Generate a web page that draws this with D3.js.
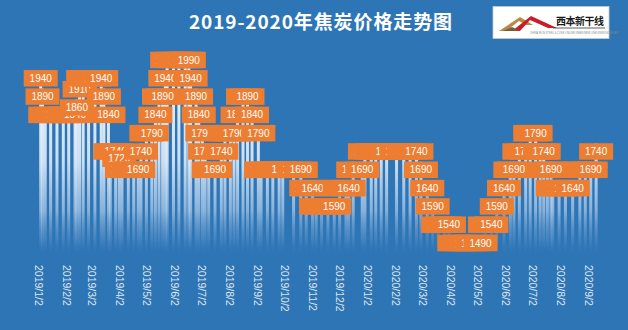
<!DOCTYPE html>
<html><head><meta charset="utf-8">
<script src="https://cdn.jsdelivr.net/npm/d3@7"></script>
<style>html,body{margin:0;padding:0;background:#2e75b6;} svg{display:block}</style>
</head><body><svg id="c" width="628" height="330"></svg>
<script>
const title = "2019-2020年焦炭价格走势图";
const dates = [
 "2019-01-05","2019-01-07","2019-01-10","2019-01-16","2019-01-23","2019-01-30","2019-02-05","2019-02-12",
 "2019-02-14","2019-02-17","2019-02-21","2019-02-27","2019-03-06","2019-03-13","2019-03-16","2019-03-21",
 "2019-03-23","2019-03-29","2019-04-02","2019-04-05","2019-04-12","2019-04-18","2019-04-23","2019-04-26",
 "2019-05-02","2019-05-08","2019-05-12","2019-05-16","2019-05-20","2019-05-23","2019-05-25","2019-06-01",
 "2019-06-07","2019-06-14","2019-06-18","2019-06-20","2019-06-26","2019-06-29","2019-07-03","2019-07-06",
 "2019-07-10","2019-07-17","2019-07-24","2019-07-28","2019-08-03","2019-08-07","2019-08-11","2019-08-17",
 "2019-08-22","2019-08-27","2019-09-03","2019-09-06","2019-09-13","2019-09-19","2019-09-26","2019-09-30",
 "2019-10-12","2019-10-20","2019-10-26","2019-11-02","2019-11-06","2019-11-12","2019-11-19","2019-11-26",
 "2019-12-02","2019-12-09","2019-12-12","2019-12-17","2019-12-27","2019-12-30","2020-01-06","2020-01-11",
 "2020-01-17","2020-01-23","2020-02-03","2020-02-11","2020-02-18","2020-02-25","2020-03-01","2020-03-08",
 "2020-03-14","2020-03-20","2020-03-27","2020-04-01","2020-04-07","2020-04-13","2020-04-20","2020-04-27",
 "2020-05-06","2020-05-11","2020-05-18","2020-05-24","2020-06-01","2020-06-08","2020-06-12","2020-06-18",
 "2020-06-25","2020-06-30","2020-07-06","2020-07-11","2020-07-15","2020-07-19","2020-07-23","2020-07-25",
 "2020-08-01","2020-08-08","2020-08-16","2020-08-24","2020-08-30","2020-09-05","2020-09-11"
];
const prices = [
 1940,1890,1840,1840,1840,1840,1840,1840,
 1860,1910,1940,1940,1940,1940,1890,1840,
 1740,1740,1720,1690,1690,1690,1690,1740,
 1790,1790,1840,1890,1890,1940,1990,1990,
 1990,1990,1990,1940,1890,1840,1790,1740,
 1690,1690,1740,1790,1790,1790,1840,1890,
 1890,1840,1790,1690,1690,1690,1690,1690,
 1690,1690,1640,1640,1590,1590,1590,1590,
 1640,1640,1640,1690,1690,1740,1740,1740,
 1740,1740,1740,1740,1740,1740,1690,1640,
 1590,1540,1540,1540,1490,1490,1490,1490,
 1490,1540,1540,1590,1640,1690,1690,1740,
 1740,1790,1790,1740,1740,1690,1690,1640,
 1640,1640,1640,1690,1690,1690,1740
];
const tickLabels = ["2019/1/2","2019/2/2","2019/3/2","2019/4/2","2019/5/2","2019/6/2","2019/7/2",
 "2019/8/2","2019/9/2","2019/10/2","2019/11/2","2019/12/2","2020/1/2","2020/2/2","2020/3/2",
 "2020/4/2","2020/5/2","2020/6/2","2020/7/2","2020/8/2","2020/9/2"];
const logoText = "西本新干线";

const W = 628, H = 330;
const parseISO = d3.timeParse("%Y-%m-%d");
const parseTick = d3.timeParse("%Y/%m/%d");
const data = dates.map((d, i) => ({date: parseISO(d), value: prices[i]}));
const ticks = tickLabels.map(t => parseTick(t));

const svg = d3.select("#c");
svg.append("rect").attr("width", W).attr("height", H).attr("fill", "#2e75b6");

const x = d3.scaleTime().domain([ticks[0], ticks[ticks.length - 1]]).range([38, 588]);
const y = d3.scaleLinear().domain([1440, 2000]).range([253.3, 48.3]);

// gradient for bars
const defs = svg.append("defs");
const g = defs.append("linearGradient").attr("id", "barGrad")
  .attr("gradientUnits", "userSpaceOnUse").attr("x1", 0).attr("x2", 0)
  .attr("y1", y(2000)).attr("y2", 256);
[[0, "#ffffff", 0.95], [0.55, "#e0ecf8", 0.88], [0.78, "#b3cfec", 0.68], [0.92, "#6e9fd2", 0.33], [1, "#2e75b6", 0]]
  .forEach(s => g.append("stop").attr("offset", s[0]).attr("stop-color", s[1]).attr("stop-opacity", s[2]));

// bars
const bw = 3;
svg.append("g").selectAll("rect").data(data).join("rect")
  .attr("x", d => x(d.date) - bw / 2)
  .attr("width", bw)
  .attr("y", d => y(d.value))
  .attr("height", d => y.range()[0] - y(d.value))
  .attr("fill", "url(#barGrad)");

// data labels (drawn in order so later ones cover earlier)
const bwL = 34, bhL = 16.5;
const lg = svg.append("g");
data.forEach(d => {
  const cx = x(d.date), cy = y(d.value) + 8;
  const gg = lg.append("g");
  gg.append("rect").attr("x", cx - bwL / 2).attr("y", cy - bhL / 2)
    .attr("width", bwL).attr("height", bhL).attr("fill", "#ed7d31");
  gg.append("text").attr("x", cx).attr("y", cy).attr("dy", "0.36em")
    .attr("text-anchor", "middle").attr("fill", "#ffffff")
    .attr("font-family", "'Liberation Sans', Arial, sans-serif").attr("font-size", 10)
    .text(d.value);
});

// x axis labels (rotated)
const xAxis = d3.axisBottom(x).tickValues(ticks).tickSize(0)
  .tickFormat((d, i) => tickLabels[i]);
const ax = svg.append("g").attr("transform", "translate(0,262)").call(xAxis);
ax.select(".domain").remove();
ax.selectAll("text")
  .attr("fill", "#dfe6ef")
  .attr("font-family", "'Liberation Sans', Arial, sans-serif")
  .attr("font-size", 10.5)
  .attr("text-anchor", "start")
  .attr("transform", "rotate(90)")
  .attr("x", 3).attr("y", 0).attr("dy", "0.35em");

// title
svg.append("text").attr("x", 321).attr("y", 29).attr("text-anchor", "middle")
  .attr("fill", "#ffffff").attr("font-weight", "bold")
  .attr("font-family", "'Noto Sans CJK SC', sans-serif").attr("font-size", 19)
  .attr("letter-spacing", 0.9).text(title);

// logo
const logo = svg.append("g");
logo.append("rect").attr("x", 493).attr("y", 6.5).attr("width", 116).attr("height", 32)
  .attr("fill", "#ffffff").attr("stroke", "#c9c9c9").attr("stroke-width", 0.8);
logo.append("path").attr("d", "M499,31 L520,17 L533,25 L526,25 L519,21 L506,31 Z").attr("fill", "#b98a45");
logo.append("path").attr("d", "M512,31 L531,16 L557,28 L548,28 L530,20 L520,31 Z").attr("fill", "#c81e2a");
logo.append("path").attr("d", "M503,31 L512,27 L520,31 Z").attr("fill", "#7a5a3a");
logo.append("text").attr("x", 556).attr("y", 25).attr("fill", "#1a1a1a").attr("font-weight", "bold")
  .attr("font-family", "'Noto Sans CJK SC', sans-serif").attr("font-size", 10).attr("letter-spacing", -0.5)
  .text(logoText);
logo.append("line").attr("x1", 553).attr("x2", 605).attr("y1", 28).attr("y2", 28)
  .attr("stroke", "#333").attr("stroke-width", 0.8);
logo.append("text").attr("x", 530).attr("y", 33.5).attr("fill", "#888")
  .attr("font-family", "'Liberation Sans', sans-serif").attr("font-size", 2.6)
  .text("CHINA IRON STEEL & COKE ONLINE XIBEN NEW LINE  WWW.96369.NET");
</script></body></html>
